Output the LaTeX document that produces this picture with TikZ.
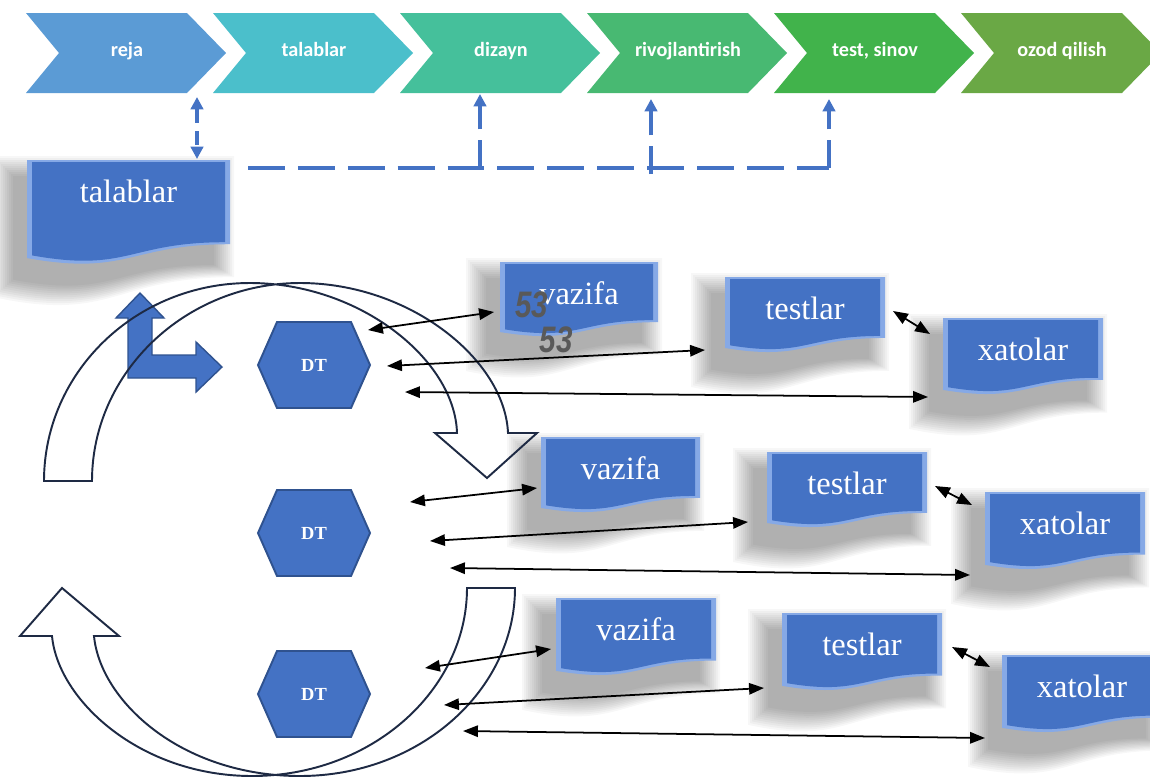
\documentclass[tikz,border=0pt]{standalone}
\usepackage{fontspec}
\setmainfont{Liberation Serif}
\newfontfamily\calibfam{Carlito}
\newfontfamily\numfam{Liberation Sans}
\usetikzlibrary{arrows.meta}

\definecolor{cA}{HTML}{5B9BD5}
\definecolor{cB}{HTML}{4BBFCB}
\definecolor{cC}{HTML}{45C09B}
\definecolor{cD}{HTML}{48B972}
\definecolor{cE}{HTML}{41B34B}
\definecolor{cF}{HTML}{6AA845}
\definecolor{docblue}{HTML}{4472C4}
\definecolor{docedge}{HTML}{86A9E6}
\definecolor{hexline}{HTML}{2F528F}
\definecolor{dashblue}{HTML}{4472C4}
\definecolor{curveline}{HTML}{1E2A44}
\definecolor{numgray}{HTML}{595959}

% document shape path: x1, ytop, x2, H
\newcommand{\docpath}[4]{({#1},{#2}) -- ({#3},{#2}) -- ({#3},{#2+0.802*(#4)}) .. controls ({(#1+#3)/2},{#2+0.802*(#4)}) and ({(#1+#3)/2},{#2+1.107*(#4)}) .. ({#1},{#2+0.934*(#4)}) -- cycle}

% name, x1, ytop, x2, H, text
\newcommand{\docbox}[6]{%
  \foreach \g in {20,18,...,0}{
    \fill[black, opacity=0.032] \docpath{#2-14-\g}{#3+16-\g}{#4-16+\g}{#5+6+2*\g};
  }
  \fill[docedge] \docpath{#2}{#3}{#4}{#5};
  \fill[docblue] \docpath{#2+5}{#3+2}{#4-5}{#5-5};
  \node[doctext] (#1) at ({(#2+#4)/2},{#3+31}) {#6};
}

% name, cx, cy
\newcommand{\hexdt}[3]{%
  \filldraw[fill=docblue, draw=hexline, line width=1.1pt]
    ({#2-56},{#3}) -- ({#2-37},{#3-43}) -- ({#2+37},{#3-43}) -- ({#2+56},{#3})
    -- ({#2+37},{#3+43}) -- ({#2-37},{#3+43}) -- cycle;
  \node[dttext] (#1) at (#2,#3) {DT};
}

% name, left x, colour, text
\newcommand{\chev}[4]{%
  \fill[#3] ({#2},13) -- ({#2+161},13) -- ({#2+200},53) -- ({#2+161},93) -- ({#2},93) -- ({#2+33},53) -- cycle;
  \node[chevtext] (#1) at ({#2+101},52) {#4};
}

\begin{document}
\begin{tikzpicture}[x=0.02cm, y=-0.02cm,
  chevtext/.style={text=white, font=\calibfam\bfseries\fontsize{11.5}{13}\selectfont, inner sep=0pt, text height=8pt, text depth=2.5pt},
  doctext/.style={text=white, font=\fontsize{18.5}{20}\selectfont, inner sep=0pt},
  dttext/.style={text=white, font=\bfseries\fontsize{10.5}{12}\selectfont, inner sep=0pt},
  numlab/.style={text=numgray, font=\numfam\bfseries\itshape\fontsize{21}{21}\selectfont, inner sep=0pt},
  dashline/.style={draw=dashblue, line width=2pt},
  dtip/.style={-{Triangle[length=7pt,width=7pt]}},
  conn/.style={draw=black, line width=1pt, {Triangle[length=8.5pt,width=6.5pt]}-{Triangle[length=8.5pt,width=6.5pt]}},
  curvearrow/.style={draw=curveline, line width=1.1pt, line join=miter}
]
\useasboundingbox (0,0) rectangle (1150,778);
\fill[white] (0,0) rectangle (1150,778);

% ---- process chevrons
\chev{ch1}{26}{cA}{reja}
\chev{ch2}{213}{cB}{talablar}
\chev{ch3}{400}{cC}{dizayn}
\chev{ch4}{587}{cD}{rivojlantirish}
\chev{ch5}{774}{cE}{test, sinov}
\chev{ch6}{961}{cF}{ozod qilish}

% ---- requirements box
\docbox{tal}{27}{160}{230}{105}{talablar}

% ---- dashed links
\coordinate (dq1) at (197,97);
\coordinate (dq2) at (197,159);
\draw[dashline, dash pattern=on 8pt off 5pt, {Triangle[length=7pt,width=7pt]}-{Triangle[length=7pt,width=7pt]}] (dq1) -- (dq2);
\coordinate (hs) at (248,168);
\coordinate (he) at (829,168);
\draw[dashline, dash pattern=on 21pt off 7.4pt] (hs) -- (he);
\coordinate (u3s) at (480,168); \coordinate (u3e) at (480,94);
\coordinate (u4s) at (651,174); \coordinate (u4e) at (651,99);
\coordinate (u5s) at (829,168); \coordinate (u5e) at (829,99);
\draw[dashline, dash pattern=on 16pt off 6pt, dtip] (u3s) -- (u3e);
\draw[dashline, dash pattern=on 16pt off 6pt, dtip] (u4s) -- (u4e);
\draw[dashline, dash pattern=on 16pt off 6pt, dtip] (u5s) -- (u5e);

% ---- blue bent arrow
\filldraw[fill=docblue, draw=hexline, line width=0.8pt]
  (128,378) -- (128,318) -- (116,318) -- (140,293) -- (164,318) -- (152,318)
  -- (152,355) -- (196,355) -- (196,342) -- (222,367) -- (196,392) -- (196,378) -- cycle;

% ---- DT hexagons
\hexdt{dt1}{314}{365}
\hexdt{dt2}{314}{533}
\hexdt{dt3}{314}{694}

% ---- document boxes
\docbox{v1}{500}{262}{658}{75}{vazifa}
\docbox{t1}{725}{277}{885}{76}{testlar}
\docbox{x1}{943}{318}{1103}{77}{xatolar}
\docbox{v2}{541}{437}{700}{76}{vazifa}
\docbox{t2}{767}{452}{927}{76}{testlar}
\docbox{x2}{985}{492}{1145}{78}{xatolar}
\docbox{v3}{556}{598}{716}{78}{vazifa}
\docbox{t3}{782}{613}{942}{78}{testlar}
\docbox{x3}{1002}{655}{1162}{78}{xatolar}

% ---- big curved arrows
\draw[curvearrow] (44,481) .. controls (44,372) and (136,283) .. (250,283)
  .. controls (360,283) and (455,360) .. (457,433) -- (435,433) -- (487,478) -- (537,433) -- (508,433)
  .. controls (505,360) and (410,283) .. (300,283)
  .. controls (186,283) and (92,372) .. (92,481) -- cycle;
\draw[curvearrow] (467,588) -- (515,588) .. controls (515,690) and (420,776) .. (300,776)
  .. controls (180,776) and (100,700) .. (94,636) -- (119,636) -- (62,588) -- (20,636) -- (52,636)
  .. controls (58,700) and (140,776) .. (252,776)
  .. controls (372,776) and (467,690) .. (467,588) -- cycle;

% ---- connectors
\coordinate (a11) at (368,330); \coordinate (b11) at (494,312);
\coordinate (a12) at (387,366); \coordinate (b12) at (705,350);
\coordinate (a13) at (405,392); \coordinate (b13) at (928,397);
\coordinate (a14) at (893,311); \coordinate (b14) at (930,334);
\coordinate (a21) at (410,502); \coordinate (b21) at (537,488);
\coordinate (a22) at (430,541); \coordinate (b22) at (748,522);
\coordinate (a23) at (450,568); \coordinate (b23) at (970,575);
\coordinate (a24) at (935,486); \coordinate (b24) at (972,505);
\coordinate (a31) at (425,668); \coordinate (b31) at (551,649);
\coordinate (a32) at (444,705); \coordinate (b32) at (764,688);
\coordinate (a33) at (463,731); \coordinate (b33) at (985,738);
\coordinate (a34) at (952,647); \coordinate (b34) at (990,667);
\foreach \r in {1,2,3}{
  \foreach \c in {1,2,3,4}{
    \draw[conn] (a\r\c) -- (b\r\c);
  }
}

% ---- stray labels
\node[numlab] (n1) at (532,305) {\scalebox{0.8}[1]{53}};
\node[numlab] (n2) at (556,340) {\scalebox{0.8}[1]{53}};
\end{tikzpicture}
\end{document}
